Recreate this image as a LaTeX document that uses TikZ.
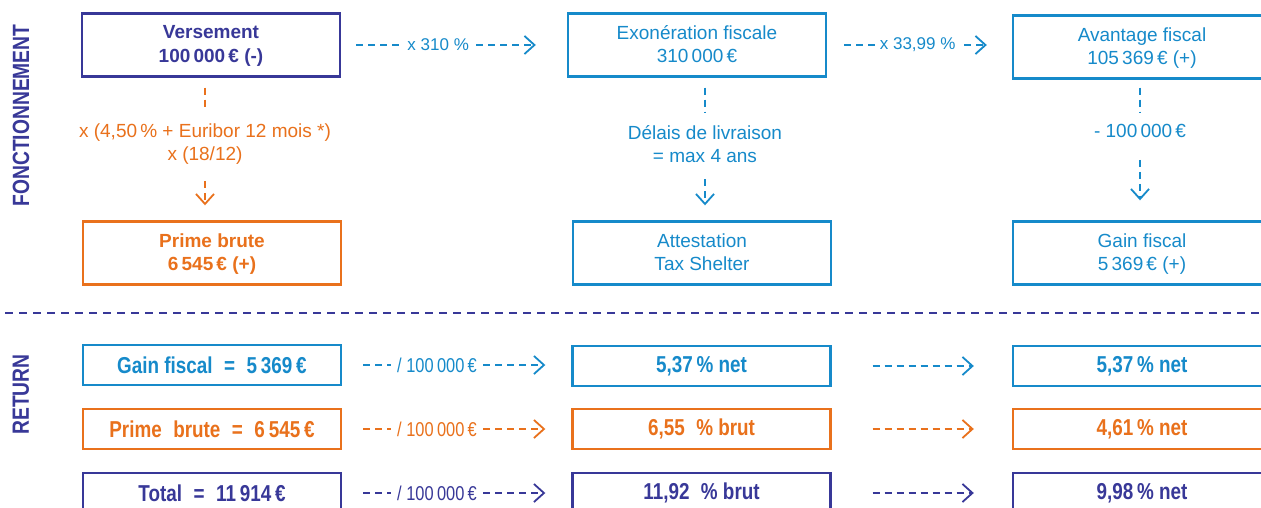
\documentclass[tikz,border=0pt]{standalone}
\usepackage{fontspec}
\setmainfont{Liberation Sans}
\newfontfamily\narrowsf[FakeStretch=0.82]{Liberation Sans}
\usetikzlibrary{arrows.meta}
\definecolor{cIndigo}{RGB}{56,56,152}
\definecolor{cSky}{RGB}{22,138,202}
\definecolor{cOrange}{RGB}{233,113,28}
\begin{document}
\begin{tikzpicture}[x=1pt,y=-1pt,
  box/.style={draw, line width=2.4pt, minimum width=258pt, inner sep=0pt, align=center,
    font=\fontsize{19}{23.5}\selectfont},
  topbox/.style={box, minimum height=63pt, text depth=2pt},
  retbox/.style={box, minimum height=40pt, font=\narrowsf\bfseries\fontsize{23}{27}\selectfont},
  conn/.style={line width=1.8pt, dash pattern=on 7pt off 5pt},
  tip/.style={-{Straight Barb[length=10pt,width=18pt,line width=1.8pt]}},
  vlab/.style={inner sep=0pt, align=center, font=\fontsize{19}{23.5}\selectfont},
  hlab/.style={fill=white, inner xsep=5pt, inner ysep=2pt, font=\fontsize{17}{20}\selectfont},
  rlab/.style={fill=white, inner xsep=6pt, inner ysep=2pt, font=\narrowsf\fontsize{20}{24}\selectfont},
  side/.style={rotate=90, cIndigo, font=\narrowsf\bfseries\fontsize{23.5}{28}\selectfont}]

\fill[white] (0,0) rectangle (1261,508);
\useasboundingbox (0,0) rectangle (1261,508);

% section titles
\node[side] (fonc) at (21,115.5) {FONCTIONNEMENT};
\node[side] (ret) at (21,394.5) {RETURN};

% upper part: mechanism
\node[topbox, cIndigo, font=\fontsize{19}{23.5}\selectfont\bfseries] (vers) at (211,45) {Versement\\100\,000\,€ (-)};
\node[topbox, cSky] (exo) at (697,45) {Exonération fiscale\\310\,000\,€};
\node[topbox, cSky] (av) at (1142,47) {Avantage fiscal\\105\,369\,€ (+)};

\node[topbox, cOrange, font=\fontsize{19}{23.5}\selectfont\bfseries] (prime) at (212,253) {Prime brute\\6\,545\,€ (+)};
\node[topbox, cSky] (att) at (702,253) {Attestation\\Tax Shelter};
\node[topbox, cSky] (gain) at (1142,253) {Gain fiscal\\5\,369\,€ (+)};

\node[vlab, cOrange] (euri) at (205,144) {x (4,50\,\% + Euribor 12 mois *)\\x (18/12)};
\node[vlab, cSky] (delai) at (705,144) {Délais de livraison\\= max 4 ans};
\node[vlab, cSky] (moins) at (1140,131) {- 100\,000\,€};

% horizontal connectors of the upper part
\draw[conn, tip, cSky, shorten <=15pt, shorten >=31pt]
  (vers.east) -- node[hlab, pos=0.43] {x 310 \%} (exo.west);
\draw[conn, tip, cSky, shorten <=17pt, shorten >=25pt]
  (exo.east) -- node[hlab, pos=0.49] {x 33,99 \%} (exo.east -| av.west);

% vertical connectors of the upper part
\draw[conn, cOrange, shorten <=10pt, shorten >=13pt] (euri |- vers.south) -- (euri.north);
\draw[conn, tip, cOrange, shorten <=16pt, shorten >=15pt] (euri.south) -- (euri |- prime.north);
\draw[conn, cSky, shorten <=10pt, shorten >=13pt] (delai |- exo.south) -- (delai.north);
\draw[conn, tip, cSky, shorten <=16pt, shorten >=15pt] (delai.south) -- (delai |- att.north);
\draw[conn, cSky, shorten <=8pt, shorten >=12pt] (moins |- av.south) -- (moins.north);
\draw[conn, tip, cSky, shorten <=22pt, shorten >=20pt] (moins.south) -- (moins |- gain.north);

% separator
\coordinate (sepL) at (5,313);
\coordinate (sepR) at (1261,313);
\draw[cIndigo, line width=1.8pt, dash pattern=on 8pt off 6pt] (sepL) -- (sepR);

% lower part: return
\node[retbox, cSky] (g1) at (212,365) {Gain fiscal\enspace=\enspace 5\,369\,€};
\node[retbox, cSky] (g2) at (701.5,366) {5,37\,\% net};
\node[retbox, cSky] (g3) at (1142,366) {5,37\,\% net};

\node[retbox, cOrange] (p1) at (212,429) {Prime\enspace brute\enspace=\enspace 6\,545\,€};
\node[retbox, cOrange] (p2) at (701.5,429) {6,55\enspace\% brut};
\node[retbox, cOrange] (p3) at (1142,429) {4,61\,\% net};

\node[retbox, cIndigo] (t1) at (212,493) {Total\enspace=\enspace 11\,914\,€};
\node[retbox, cIndigo] (t2) at (701.5,493) {11,92\enspace\% brut};
\node[retbox, cIndigo] (t3) at (1142,493) {9,98\,\% net};

\foreach \a/\b/\c/\col in {g1/g2/g3/cSky, p1/p2/p3/cOrange, t1/t2/t3/cIndigo}{
  \draw[conn, tip, \col, shorten <=21pt, shorten >=26pt]
    (\a.east) -- node[rlab, pos=0.414] {/ 100\,000\,€} (\a.east -| \b.west);
  \draw[conn, tip, \col, shorten <=41pt, shorten >=38pt]
    (\b.east) -- (\b.east -| \c.west);
}
\end{tikzpicture}
\end{document}
